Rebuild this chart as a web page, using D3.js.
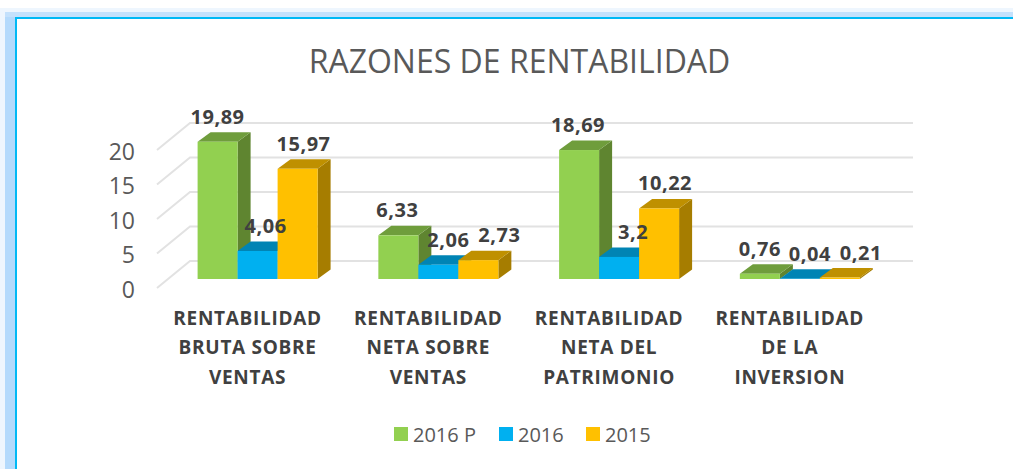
<!DOCTYPE html>
<html><head><meta charset="utf-8">
<script src="https://cdn.jsdelivr.net/npm/d3@7"></script>
<style>html,body{margin:0;padding:0;background:#fff;overflow:hidden}svg{display:block}</style>
</head><body><svg id="c" width="1013" height="469"></svg>
<script>
const chartTitle = "RAZONES DE RENTABILIDAD";
const categories = ["RENTABILIDAD BRUTA SOBRE VENTAS","RENTABILIDAD NETA SOBRE VENTAS","RENTABILIDAD NETA DEL PATRIMONIO","RENTABILIDAD DE LA INVERSION"];
const categoryLines = [["RENTABILIDAD","BRUTA SOBRE","VENTAS"],["RENTABILIDAD","NETA SOBRE","VENTAS"],["RENTABILIDAD","NETA DEL","PATRIMONIO"],["RENTABILIDAD","DE LA","INVERSION"]];
const seriesNames = ["2016 P","2016","2015"];
const values2016P = [19.89,6.33,18.69,0.76];
const values2016 = [4.06,2.06,3.2,0.04];
const values2015 = [15.97,2.73,10.22,0.21];
const valueLabels = [["19,89","6,33","18,69","0,76"],["4,06","2,06","3,2","0,04"],["15,97","2,73","10,22","0,21"]];
const yTicks = [0,5,10,15,20];

const allValues = [values2016P,values2016,values2015];
const frontColors = ["#92d050","#00b0f0","#ffc000"];
const topColors = ["#6f9d3c","#0084b4","#bf9000"];
const sideColors = ["#5f8530","#007099","#a67d00"];
const labelNudge = [[0,-1,-1,0],[8,10,14,10],[6,21,6,21]];

const svg = d3.select("#c");
const font = "'Open Sans',sans-serif";

// frame
const frame = svg.append("g");
frame.append("path").attr("d","M0,469V8H1013V12H5V469Z").attr("fill","#eef6fe");
frame.append("path").attr("d","M5,469V12H1013V17H15V469Z").attr("fill","#c4e1fc");
frame.append("path").attr("d","M5,469V17H15V469Z").attr("fill","#b4dafc");
frame.append("path").attr("d","M15,469V17H1013V19H17V469Z").attr("fill","#00b9f5");

svg.append("text").attr("x",519.5).attr("y",73).attr("text-anchor","middle")
  .attr("font-family",font).attr("font-size",32).attr("fill","#595959").text(chartTitle);

const floorDX=33, floorDY=-27, barDX=13, barDY=-9.5;
const y = d3.scaleLinear().domain([0,20]).range([288,150]);
const x0 = d3.scaleBand().domain(d3.range(categories.length)).range([157,880]).padding(0);
const x1 = d3.scaleBand().domain(d3.range(seriesNames.length)).range([30.4,150.4]);
const barOffX = 10.2, barOffY = -9;

// grid
const grid = svg.append("g").attr("fill","none").attr("stroke","#e2e2e2").attr("stroke-width",2);
yTicks.forEach(t=>{
  const yy=y(t);
  grid.append("path").attr("d",d3.line()([[157,yy],[157+floorDX,yy+floorDY],[880+floorDX,yy+floorDY]]));
});

// y tick labels
svg.append("g").selectAll("text").data(yTicks).join("text")
  .attr("x",135).attr("y",d=>y(d)+9.5).attr("text-anchor","end")
  .attr("font-family",font).attr("font-size",23).attr("fill","#595959").text(d=>d);

// bars
const bars = svg.append("g");
categories.forEach((c,ci)=>{
  seriesNames.forEach((s,si)=>{
    const v=allValues[si][ci];
    const l=x0(ci)+x1(si)+barOffX, r=l+x1.bandwidth();
    const b=y(0)+barOffY, t=y(v)+barOffY;
    const g=bars.append("g");
    g.append("polygon").attr("fill",sideColors[si]).attr("points",[[r,b],[r+barDX,b+barDY],[r+barDX,t+barDY],[r,t]].join(" "));
    g.append("polygon").attr("fill",topColors[si]).attr("points",[[l,t],[l+barDX,t+barDY],[r+barDX,t+barDY],[r,t]].join(" "));
    g.append("rect").attr("x",l).attr("y",t).attr("width",r-l).attr("height",b-t).attr("fill",frontColors[si]);
  });
});

// value labels
const labels = svg.append("g");
categories.forEach((c,ci)=>{
  seriesNames.forEach((s,si)=>{
    const v=allValues[si][ci];
    const cx=x0(ci)+x1(si)+barOffX+x1.bandwidth()/2+labelNudge[si][ci];
    labels.append("text").attr("x",cx).attr("y",y(v)+barOffY-18).attr("text-anchor","middle")
      .attr("font-family",font).attr("font-weight",700).attr("font-size",20).attr("letter-spacing",0.5).attr("fill","#404040")
      .text(valueLabels[si][ci]);
  });
});

// category labels
const cats = svg.append("g");
categoryLines.forEach((lines,ci)=>{
  const cx=x0(ci)+x1(1)+barOffX+x1.bandwidth()/2-10;
  lines.forEach((ln,i)=>{
    cats.append("text").attr("x",cx).attr("y",324.5+i*29.5).attr("text-anchor","middle")
      .attr("font-family",font).attr("font-weight",700).attr("font-size",19).attr("letter-spacing",0.7).attr("fill","#404040").text(ln);
  });
});

// legend
const legX=[394,499,586], legend=svg.append("g");
seriesNames.forEach((s,i)=>{
  legend.append("rect").attr("x",legX[i]).attr("y",427).attr("width",14).attr("height",14).attr("fill",frontColors[i]);
  legend.append("text").attr("x",legX[i]+19).attr("y",442).attr("font-family",font).attr("font-size",20).attr("fill","#595959").text(s);
});
</script></body></html>
